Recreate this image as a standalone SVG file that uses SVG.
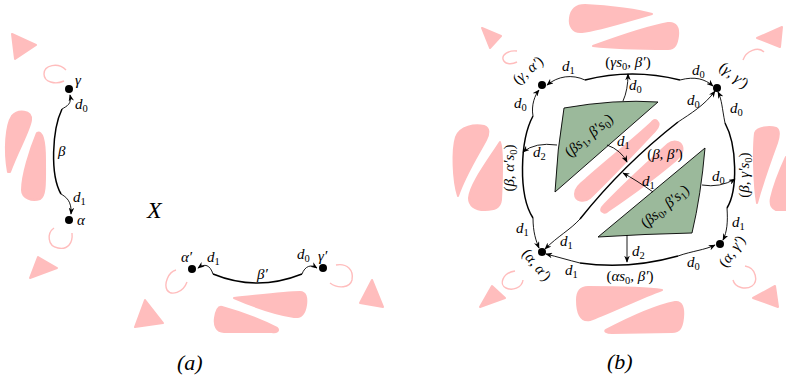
<svg xmlns="http://www.w3.org/2000/svg" width="786" height="379" viewBox="0 0 786 379">
<style>
.pk{fill:#ffbdbd;stroke:#ffbdbd;stroke-width:2;stroke-linejoin:round}
.pl{fill:none;stroke:#ffbdbd;stroke-width:1.4}
.e{fill:none;stroke:#000;stroke-width:1.5}
.a{fill:none;stroke:#000;stroke-width:0.9;marker-end:url(#ah)}
.g{fill:#9bb99b;stroke:#000;stroke-width:0.9;stroke-linejoin:round}
.n{fill:#000}
text{font-family:"Liberation Serif","DejaVu Serif",serif;font-style:italic;font-size:15px;fill:#000}
.s{font-size:10.5px;font-style:normal}
.u{font-style:normal}
.cap{font-family:"Liberation Serif","DejaVu Serif",serif;font-size:22px}
</style>
<defs>
<marker id="ah" viewBox="0 0 10 8" refX="9" refY="4" markerWidth="7" markerHeight="5.6" markerUnits="userSpaceOnUse" orient="auto">
<path d="M0,0 L10,4 L0,8 L3,4 Z" fill="#000"/>
</marker>
</defs>

<g id="pink">
<!-- (a) -->
<polygon class="pk" points="12,34 36,45 15,59"/>
<path class="pl" d="M66,70 C58,62 44,65 44,74 C44,82 55,85 64,81"/>
<path class="pk" d="M8,172 C4,150 6,125 12,116 C18,109 32,110 31,120 C30,130 18,150 10,172 Z"/>
<path class="pk" d="M37,133 C42,130 45,140 45,160 C45,180 46,196 40,199 C32,202 22,198 22,190 C22,175 30,150 37,133 Z"/>
<path class="pl" d="M54,228 C47,233 47,246 58,248 C68,250 73,243 72,233"/>
<polygon class="pk" points="38,257 57,268 30,278"/>
<path class="pl" d="M176,270 C168,272 164,284 167,290 C171,296 183,293 187,282"/>
<path class="pl" d="M336,265 C347,263 354,270 352,280 C350,288 338,289 330,283"/>
<polygon class="pk" points="145,300 163,323 135,327"/>
<path class="pk" d="M234,298 C255,296 285,292 300,292 C306,292 307,298 306,305 C305,312 302,318 294,317 C275,314 250,305 234,298 Z"/>
<path class="pk" d="M222,307 C240,312 262,320 277,328 C280,331 276,333 272,332 L224,332 C216,332 214,325 215,318 C216,311 218,306 222,307 Z"/>
<polygon class="pk" points="372,280 383,307 360,303"/>
<!-- (b) -->
<path class="pk" d="M652,14 C630,20 600,30 582,32 C572,33 569,25 570,18 C571,10 576,5 585,5 C610,6 640,10 652,14 Z"/>
<path class="pk" d="M593,46 C615,38 645,27 668,23 C676,22 679,28 678,36 C677,44 675,49 668,49 C645,49 610,48 593,46 Z"/>
<polygon class="pk" points="482,28 501,36 490,48"/>
<path class="pl" d="M517,51 C508,50 502,55 503,59 C504,64 511,65 517,62"/>
<polygon class="pk" points="757,38 782,27 780,47"/>
<path class="pl" d="M743,60 C746,51 758,46 764,52"/>
<path class="pk" d="M458,196 C453,180 452,150 456,137 C460,126 475,124 484,126 C490,128 489,134 486,140 C478,155 465,175 458,196 Z"/>
<path class="pk" d="M500,142 C503,150 502,180 501,200 C500,208 495,210 485,210 C474,210 469,205 469,198 C470,185 485,165 500,142 Z"/>
<path class="pk" d="M757,203 C754,185 753,150 755,133 C757,127 770,126 776,128 C780,130 779,137 777,143 C770,162 762,185 757,203 Z"/>
<path class="pk" d="M786,157 L786,210 L776,210 C771,208 770,203 771,198 C774,185 780,170 786,157 Z"/>
<path class="pl" d="M515,271 C502,273 499,285 506,288 C512,291 522,288 523,280"/>
<polygon class="pk" points="492,286 505,298 480,307"/>
<path class="pl" d="M745,266 C757,268 758,282 752,286 C746,290 735,288 733,280"/>
<polygon class="pk" points="775,286 778,307 753,298"/>
<path class="pk" d="M662,290 C640,298 605,315 590,320 C580,322 577,312 577,300 C577,292 580,287 588,287 C620,287 650,288 662,290 Z"/>
<path class="pk" d="M606,330 C625,320 655,306 675,302 C682,301 684,308 683,318 C682,327 680,332 672,332 L612,333 C606,333 604,331 606,330 Z"/>
<path class="pk" d="M657,121 C660,124 659,127 655,131 C640,147 612,177 590,198 C584,203 575,201 575,194 C575,188 580,184 586,179 C610,158 635,138 651,123 C653,120 655,119 657,121 Z"/>
<path class="pk" d="M603,212 C600,211 601,208 604,205 C625,183 648,162 668,144 C673,140 680,141 682,146 C684,152 680,156 675,161 C655,178 630,196 608,211 C606,213 604,213 603,212 Z"/>
</g>

<g id="green-top">
<path class="g" d="M564,108 Q615,99 658,102 L555,192 Q557,150 564,108 Z"/>
<text transform="translate(592,139) rotate(-40)" text-anchor="middle"><tspan class="u">(</tspan>βs<tspan class="s" dy="3">1</tspan><tspan dy="-3">, β′s</tspan><tspan class="s" dy="3">0</tspan><tspan class="u" dy="-3">)</tspan></text>
</g>
<g id="green-bottom">
<path class="g" d="M705,148 Q701,195 692,233 Q645,234 598,237 Z"/>
<text transform="translate(668,210) rotate(-40)" text-anchor="middle"><tspan class="u">(</tspan>βs<tspan class="s" dy="3">0</tspan><tspan dy="-3">, β′s</tspan><tspan class="s" dy="3">1</tspan><tspan class="u" dy="-3">)</tspan></text>
</g>

<g id="connectors">
<!-- (a) vertical -->
<path class="e" d="M62,109 C52,130 50,175 61,194"/>
<path class="a" d="M62,109 C67,106 72,104 70,95"/>
<path class="a" d="M61,194 C66,197 72,201 71,214"/>
<!-- (a) horizontal -->
<path class="e" d="M213,274 Q257,292 302,274"/>
<path class="a" d="M213,274 C210,265 205,263 198,268"/>
<path class="a" d="M302,274 C305,266 311,264 317,268"/>
<!-- (b) outer edges -->
<path class="e" d="M585,80 Q632,68 680,80"/>
<path class="e" d="M533,116 C520,140 518,195 533,218"/>
<path class="e" d="M725,123 C737,145 738,190 727,208"/>
<path class="e" d="M580,263 Q628,270 678,256"/>
<path class="e" d="M580,219 Q623,165 678,122"/>
<!-- (b) arrows -->
<path class="a" d="M585,80 C572,74 558,76 547,85"/>
<path class="a" d="M680,80 C695,76 705,79 713,86"/>
<path class="a" d="M533,116 C531,105 535,95 539,90"/>
<path class="a" d="M533,218 C533,232 536,241 539,248"/>
<path class="a" d="M725,123 C722,108 722,100 718,92"/>
<path class="a" d="M727,208 C728,222 727,232 723,240"/>
<path class="a" d="M580,263 C568,260 558,257 546,254"/>
<path class="a" d="M678,256 C692,251 705,250 715,245"/>
<path class="a" d="M580,219 C570,230 558,236 545,249"/>
<path class="a" d="M678,122 C690,114 705,105 715,91"/>
<path class="a" d="M623,101 Q628,90 628,74"/>
<path class="a" d="M557,145 Q535,142 523,152"/>
<path class="a" d="M702,185 Q720,188 735,179"/>
<path class="a" d="M627,235 L627,262"/>
<path class="a" d="M607,145 Q621,150 627,162"/>
<path class="a" d="M653,192 Q636,180 623,173"/>
</g>

<g id="node-gamma"><circle class="n" cx="69" cy="89" r="4"/><text x="75" y="85">γ</text></g>
<g id="node-alpha"><circle class="n" cx="69" cy="220" r="4"/><text x="77" y="225">α</text></g>
<g id="node-alpha-p"><circle class="n" cx="192" cy="269" r="4"/><text x="181" y="262">α′</text></g>
<g id="node-gamma-p"><circle class="n" cx="323" cy="268" r="4"/><text x="318" y="261">γ′</text></g>

<g id="labels-a">
<text x="75" y="109">d<tspan class="s" dy="3">0</tspan></text>
<text x="58" y="156">β</text>
<text x="73" y="202">d<tspan class="s" dy="3">1</tspan></text>
<text x="207" y="262">d<tspan class="s" dy="3">1</tspan></text>
<text x="257" y="279">β′</text>
<text x="297" y="259">d<tspan class="s" dy="3">0</tspan></text>
<text x="147" y="218" style="font-size:24px">X</text>
<text class="cap" x="177" y="370">(a)</text>
</g>

<g id="node-ga"><circle class="n" cx="542" cy="85" r="4"/><text transform="translate(531,74) rotate(-40)" text-anchor="middle"><tspan class="u">(</tspan>γ, α′<tspan class="u">)</tspan></text></g>
<g id="node-gg"><circle class="n" cx="717" cy="88" r="4"/><text transform="translate(731,79) rotate(38)" text-anchor="middle"><tspan class="u">(</tspan>γ, γ′<tspan class="u">)</tspan></text></g>
<g id="node-aa"><circle class="n" cx="542" cy="252" r="4"/><text transform="translate(533,268) rotate(50)" text-anchor="middle"><tspan class="u">(</tspan>α, α′<tspan class="u">)</tspan></text></g>
<g id="node-ag"><circle class="n" cx="720" cy="244" r="4"/><text transform="translate(736,254) rotate(-55)" text-anchor="middle"><tspan class="u">(</tspan>α, γ′<tspan class="u">)</tspan></text></g>

<g id="labels-b">
<text x="628" y="67" text-anchor="middle"><tspan class="u">(</tspan>γs<tspan class="s" dy="3">0</tspan><tspan dy="-3">, β′</tspan><tspan class="u">)</tspan></text>
<text x="562" y="71">d<tspan class="s" dy="3">1</tspan></text>
<text x="692" y="75">d<tspan class="s" dy="3">0</tspan></text>
<text x="629" y="90">d<tspan class="s" dy="3">0</tspan></text>
<text x="514" y="108">d<tspan class="s" dy="3">0</tspan></text>
<text x="687" y="105">d<tspan class="s" dy="3">0</tspan></text>
<text x="730" y="113">d<tspan class="s" dy="3">0</tspan></text>
<text x="533" y="157">d<tspan class="s" dy="3">2</tspan></text>
<text x="617" y="146">d<tspan class="s" dy="3">1</tspan></text>
<text x="665" y="159" text-anchor="middle"><tspan class="u">(</tspan>β, β′<tspan class="u">)</tspan></text>
<text x="642" y="186">d<tspan class="s" dy="3">1</tspan></text>
<text x="712" y="181">d<tspan class="s" dy="3">0</tspan></text>
<text x="516" y="233">d<tspan class="s" dy="3">1</tspan></text>
<text x="560" y="246">d<tspan class="s" dy="3">1</tspan></text>
<text x="732" y="227">d<tspan class="s" dy="3">1</tspan></text>
<text x="632" y="256">d<tspan class="s" dy="3">2</tspan></text>
<text x="565" y="275">d<tspan class="s" dy="3">1</tspan></text>
<text x="630" y="281" text-anchor="middle"><tspan class="u">(</tspan>αs<tspan class="s" dy="3">0</tspan><tspan dy="-3">, β′</tspan><tspan class="u">)</tspan></text>
<text x="687" y="267">d<tspan class="s" dy="3">0</tspan></text>
<text transform="translate(514,168) rotate(-90)" text-anchor="middle"><tspan class="u">(</tspan>β, α′s<tspan class="s" dy="3">0</tspan><tspan class="u" dy="-3">)</tspan></text>
<text transform="translate(749,175) rotate(-90)" text-anchor="middle"><tspan class="u">(</tspan>β, γ′s<tspan class="s" dy="3">0</tspan><tspan class="u" dy="-3">)</tspan></text>
<text class="cap" x="607" y="369">(b)</text>
</g>
</svg>
